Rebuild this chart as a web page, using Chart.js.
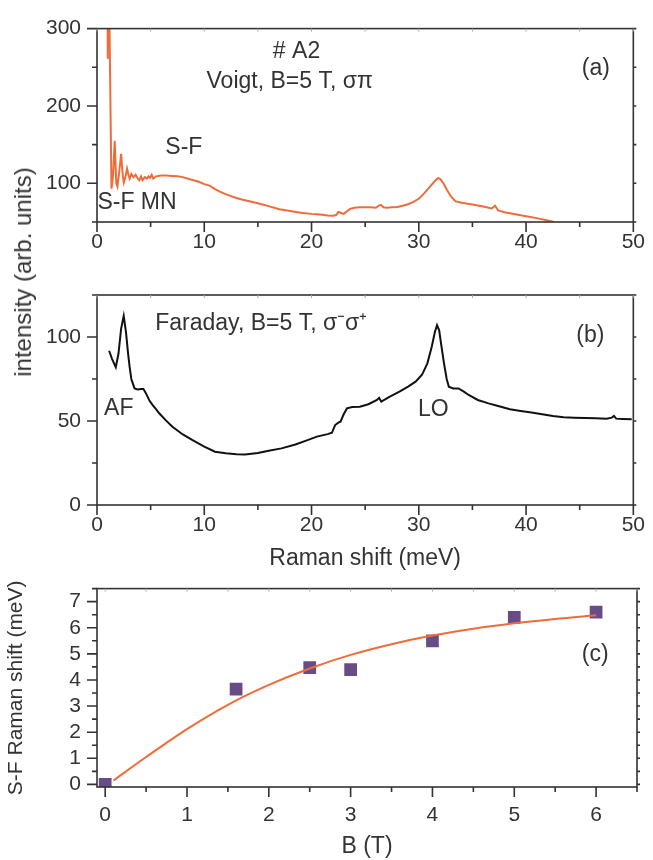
<!DOCTYPE html>
<html>
<head>
<meta charset="utf-8">
<script src="https://cdn.jsdelivr.net/npm/chart.js@4.4.1/dist/chart.umd.min.js"></script>
<style>
  body { margin: 0; background: #fff; }
  #page { position: relative; width: 653px; height: 860px; overflow: hidden; }
  canvas { position: absolute; left: 0; }
  #ytitle {
    position: absolute; left: 23px; top: 272px;
    transform: translate(-50%, -50%) rotate(-90deg);
    white-space: nowrap; line-height: 1;
    font: 24px "Liberation Sans", Arial, sans-serif; color: #333;
  }
</style>
</head>
<body>
<div id="page">
  <canvas id="voigt" width="653" height="262" style="top:0"></canvas>
  <canvas id="faraday" width="653" height="318" style="top:262px"></canvas>
  <canvas id="field" width="653" height="300" style="top:560px"></canvas>
  <div id="ytitle">intensity (arb. units)</div>
</div>
<script>
// (a) Voigt geometry, B = 5 T, sigma-pi
const voigtShift = [
  0.95, 1.0, 1.15, 1.35, 1.5, 1.65, 1.8, 1.9, 2.05, 2.25,
  2.4, 2.5, 2.65, 2.8, 2.95, 3.05, 3.2, 3.4, 3.6, 3.8,
  3.95, 4.1, 4.25, 4.45, 4.65, 4.8, 4.95, 5.1, 5.25, 5.5,
  6, 6.5, 7, 7.5, 8, 8.5, 9, 9.5, 10, 10.5,
  11, 11.5, 12, 12.5, 13, 13.5, 14, 15, 16, 17,
  18, 19, 20, 20.5, 21, 21.5, 22, 22.3, 22.5, 22.7,
  23, 23.3, 23.6, 24, 24.5, 25, 25.5, 26, 26.3, 26.5,
  26.7, 27, 27.5, 28, 28.5, 29, 29.5, 30, 30.5, 31,
  31.5, 31.8, 32, 32.3, 32.6, 33, 33.4, 34, 35, 36,
  36.8, 37.1, 37.4, 38, 39, 40, 41, 42, 42.6
];
const voigtIntensity = [
  262, 320, 320, 93, 110, 155, 100, 96, 112, 138,
  110, 101, 108, 119, 110, 106, 112, 108, 111, 106,
  104, 109, 104, 108, 106, 109, 107, 111, 106, 109,
  110, 110, 109.5, 109, 108, 106, 104, 102, 99, 97,
  92.5, 89, 86, 83.5, 81, 79, 77.5, 74.3, 70.5, 66.5,
  64.3, 62, 60.5, 60, 59.5, 58.5, 58, 59, 63, 62,
  60.5, 64, 67, 68.5, 69, 69, 69, 68.5, 71.5, 72,
  69, 68.5, 69, 69.5, 71, 73, 76, 80, 87, 95,
  103, 107, 105.5, 100, 92, 83, 77, 75, 72.5, 70,
  67.5, 71, 65, 62.5, 60, 57.5, 55, 52, 50
];

// (b) Faraday geometry, B = 5 T, sigma- sigma+
const faradayShift = [
  1.13, 1.4, 1.75, 2.0, 2.25, 2.49, 2.7, 2.9, 3.04, 3.2,
  3.5, 3.8, 4.1, 4.33, 4.6, 4.9, 5.19, 5.5, 5.8, 6.4,
  7.03, 8, 8.87, 10, 11, 12, 13, 13.8, 15, 16,
  17.2, 18.5, 19.5, 20.5, 21.5, 21.9, 22.2, 22.5, 22.7, 23,
  23.3, 23.8, 24.5, 25.3, 26.1, 26.3, 26.5, 27.3, 28.2, 29,
  29.7, 30.3, 30.8, 31.2, 31.5, 31.7, 31.9, 32.1, 32.35, 32.6,
  32.8, 33.2, 33.7, 34.2, 34.65, 35.5, 36.5, 37.4, 38.5, 39.5,
  40.5, 41.5, 42.5, 43.5, 44.5, 45.5, 46.5, 47.5, 48, 48.2,
  48.4, 49, 49.85
];
const faradayIntensity = [
  91.8, 87, 82, 90, 105, 112.5, 103, 90, 82.3, 75,
  69.4, 68.8, 69, 69, 66, 62, 59.5, 57, 54.6, 50.5,
  46.6, 42, 38.7, 34.8, 31.7, 30.8, 30.2, 30.1, 31, 32.3,
  33.7, 36, 38.3, 40.7, 42.2, 43, 47.6, 49, 49.6, 54,
  57.5, 58.3, 58.5, 60, 62.5, 63.8, 61.5, 64.5, 67.5, 70.5,
  73.4, 77.5, 84.3, 94, 103, 107, 104, 95, 84.3, 75,
  70.4, 69.4, 69.4, 67.5, 65.5, 62.5, 60.5, 58.9, 57, 56,
  55, 54, 53, 52.3, 52, 51.8, 51.6, 51.4, 52, 53,
  51.4, 51.2, 51
];

// (c) spin-flip shift versus field, measured points and fitted curve
const fieldB = [0, 1.6, 2.5, 3, 4, 5, 6];
const sfShift = [0, 3.65, 4.47, 4.4, 5.5, 6.4, 6.6];
const fitB = [0.1, 0.5, 1, 1.5, 2, 2.5, 3, 3.5, 4, 4.5, 5, 5.5, 6];
const fitShift = [0.15, 1.05, 2.12, 3.05, 3.81, 4.44, 4.96, 5.37, 5.7, 5.96, 6.17, 6.34, 6.48];

// labelled ticks
const shiftTicks = [0, 10, 20, 30, 40, 50];
const voigtTicks = [100, 200, 300];
const faradayTicks = [0, 50, 100];
const fieldTicks = [0, 1, 2, 3, 4, 5, 6];
const sfTicks = [0, 1, 2, 3, 4, 5, 6, 7];

const FONT = '"Liberation Sans", Arial, sans-serif';
const INK = '#333';
const ORANGE = '#ef6c3a';
const PURPLE = '#684c87';

Chart.defaults.font.family = FONT;
Chart.defaults.color = INK;

const pairs = (xs, ys) => xs.map((x, i) => ({ x, y: ys[i] }));

// box around the plot, tick marks (long = labelled) and in-plot notes
function frame(notes) {
  return {
    id: 'frame',
    afterDraw(chart) {
      const { ctx, chartArea: a, scales: { x, y } } = chart;
      ctx.save();
      ctx.strokeStyle = INK;
      ctx.lineWidth = 1.6;
      ctx.strokeRect(a.left, a.top, a.right - a.left, a.bottom - a.top);
      ctx.beginPath();
      for (const t of x.ticks) {
        const px = x.getPixelForValue(t.value);
        const len = t.label !== '' ? 10 : 5;
        ctx.moveTo(px, a.bottom); ctx.lineTo(px, a.bottom + len);
      }
      for (const t of y.ticks) {
        const py = y.getPixelForValue(t.value);
        const len = t.label !== '' ? 10 : 5;
        ctx.moveTo(a.left - len, py); ctx.lineTo(a.left, py);
        ctx.moveTo(a.right, py); ctx.lineTo(a.right + 3, py);
      }
      ctx.stroke();
      ctx.strokeStyle = '#aaa';
      ctx.lineWidth = 1;
      ctx.beginPath();
      for (const t of x.ticks) {
        const px = x.getPixelForValue(t.value);
        ctx.moveTo(px, a.top); ctx.lineTo(px, a.top + 3);
      }
      ctx.stroke();
      ctx.fillStyle = INK;
      ctx.textBaseline = 'alphabetic';
      for (const n of notes) {
        ctx.font = (n.size || 23) + 'px ' + FONT;
        ctx.textAlign = n.align || 'center';
        ctx.fillText(n.text, x.getPixelForValue(n.x), y.getPixelForValue(n.y));
      }
      ctx.restore();
    }
  };
}

function axisX(labels, min, max, step, height, pad, title, titlePad) {
  return {
    type: 'linear', min, max,
    grid: { display: false, drawTicks: false },
    border: { display: false },
    ticks: {
      stepSize: step, includeBounds: false, padding: pad, maxRotation: 0, autoSkip: false,
      font: { size: 21 }, color: INK,
      callback: v => labels.includes(v) ? String(v) : ''
    },
    title: title
      ? { display: true, text: title, font: { size: 23 }, color: INK, padding: { top: 0, bottom: titlePad } }
      : { display: false },
    afterFit: s => { s.height = height; }
  };
}

function axisY(labels, min, max, step, title) {
  return {
    type: 'linear', min, max,
    grid: { display: false, drawTicks: false },
    border: { display: false },
    ticks: {
      stepSize: step, includeBounds: false, padding: 16, autoSkip: false,
      font: { size: 21 }, color: INK,
      callback: v => labels.includes(v) ? String(v) : ''
    },
    title: title
      ? { display: true, text: title, font: { size: 21 }, color: INK, padding: { top: 4, bottom: 0 } }
      : { display: false },
    afterFit: s => { s.width = 97; }
  };
}

function baseOptions(padTop) {
  return {
    responsive: false,
    animation: false,
    events: [],
    layout: { padding: { top: padTop, right: 13, left: 0, bottom: 0 } },
    plugins: { legend: { display: false }, tooltip: { enabled: false } }
  };
}

new Chart(document.getElementById('voigt'), {
  type: 'scatter',
  data: {
    datasets: [{
      data: pairs(voigtShift, voigtIntensity),
      showLine: true, borderColor: ORANGE, borderWidth: 2, pointRadius: 0
    }]
  },
  options: {
    ...baseOptions(13),
    scales: {
      x: axisX(shiftTicks, 0, 50, 5, 40, 8),
      y: axisY(voigtTicks, 50, 300, 50)
    }
  },
  plugins: [frame([
    { text: '# A2', x: 18.6, y: 261.7 },
    { text: 'Voigt, B=5 T, σπ', x: 17.96, y: 223.4 },
    { text: '(a)', x: 46.5, y: 239.8 },
    { text: 'S-F', x: 8.1, y: 138.5 },
    { text: 'S-F MN', x: 3.73, y: 66.7 }
  ])]
});

new Chart(document.getElementById('faraday'), {
  type: 'scatter',
  data: {
    datasets: [{
      data: pairs(faradayShift, faradayIntensity),
      showLine: true, borderColor: '#111', borderWidth: 2, pointRadius: 0
    }]
  },
  options: {
    ...baseOptions(33),
    scales: {
      x: axisX(shiftTicks, 0, 50, 5, 75, 8, 'Raman shift (meV)', 8),
      y: axisY(faradayTicks, 0, 125, 25)
    }
  },
  plugins: [frame([
    { text: 'Faraday, B=5 T, σ⁻σ⁺', x: 5.43, y: 104.2, align: 'left' },
    { text: '(b)', x: 46.0, y: 97.2 },
    { text: 'AF', x: 2.03, y: 53.6 },
    { text: 'LO', x: 31.35, y: 53 }
  ])]
});

new Chart(document.getElementById('field'), {
  type: 'scatter',
  data: {
    datasets: [
      {
        data: pairs(fitB, fitShift),
        showLine: true, borderColor: ORANGE, borderWidth: 2, pointRadius: 0,
        cubicInterpolationMode: 'monotone'
      },
      {
        data: pairs(fieldB, sfShift),
        pointStyle: 'rect', pointRadius: 9, borderWidth: 0,
        backgroundColor: PURPLE, borderColor: PURPLE
      }
    ]
  },
  options: {
    ...baseOptions(17),
    scales: {
      x: axisX(fieldTicks, -0.1, 6.5, 0.5, 73, 16, 'B (T)', 0),
      y: axisY(sfTicks, -0.1, 7.5, 0.5, 'S-F Raman shift (meV)')
    }
  },
  plugins: [frame([
    { text: '(c)', x: 5.99, y: 4.73 }
  ])]
});
</script>
</body>
</html>
